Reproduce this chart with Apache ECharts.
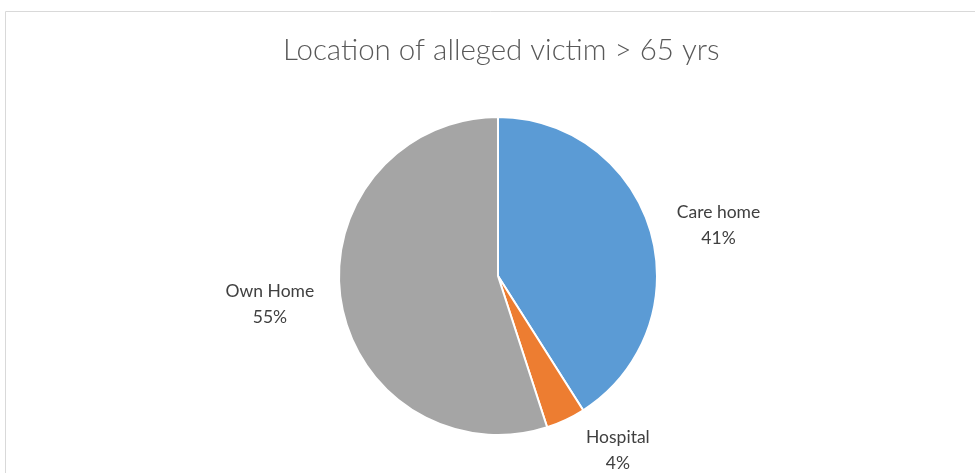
<!DOCTYPE html>
<html>
<head>
<meta charset="utf-8">
<script src="https://cdn.jsdelivr.net/npm/echarts@6/dist/echarts.min.js"></script>
<style>
    html, body { margin: 0; padding: 0; background: #fff; }
    #chart { width: 975px; height: 473px; }
</style>
</head>
<body>
<div id="chart"></div>
<script>
// values
const categories = ['Care home', 'Hospital', 'Own Home'];
const values = [41, 4, 55];
const colors = ['#5B9BD5', '#ED7D31', '#A5A5A5'];
const lineLengths = [22, 36, 22];

const chart = echarts.init(document.getElementById('chart'));

const option = {
    animation: false,
    graphic: [{
        type: 'rect',
        shape: { x: 5.5, y: 11.5, width: 1000, height: 500 },
        style: { fill: 'none', stroke: '#D9D9D9', lineWidth: 1 }
    }],
    title: {
        text: 'Location of alleged victim > 65 yrs',
        left: 278,
        top: 30,
        textStyle: {
            fontFamily: 'Lato',
            fontWeight: 300,
            fontSize: 29.5,
            color: '#595959'
        }
    },
    series: [{
        type: 'pie',
        center: [498, 276],
        radius: 159,
        startAngle: 90,
        clockwise: true,
        itemStyle: { borderColor: '#fff', borderWidth: 2 },
        label: {
            show: true,
            position: 'outside',
            formatter: '{t|{b}}\n{t|{d}%}',
            rich: {
                t: {
                    fontFamily: 'Lato',
                    fontSize: 17.5,
                    color: '#404040',
                    align: 'center',
                    lineHeight: 26
                }
            }
        },
        labelLine: { show: false, length: 22, length2: 0 },
        data: categories.map((name, i) => ({
            name: name,
            value: values[i],
            itemStyle: { color: colors[i] },
            labelLine: { show: false, length: lineLengths[i], length2: 0 }
        }))
    }]
};

chart.setOption(option);
</script>
</body>
</html>
